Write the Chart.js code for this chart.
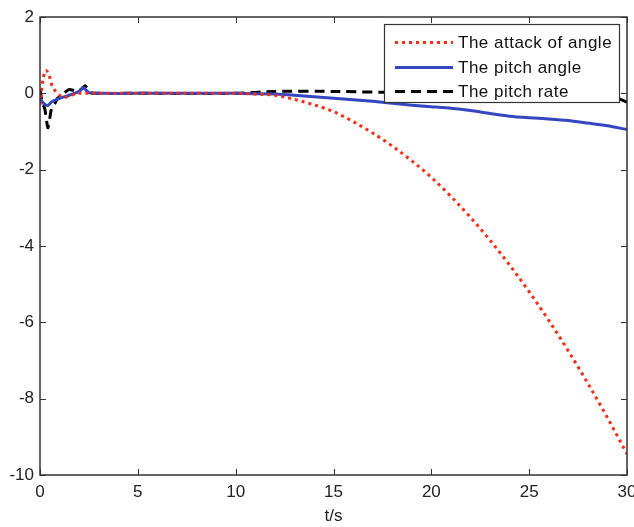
<!DOCTYPE html>
<html>
<head>
<meta charset="utf-8">
<title>Attack angle, pitch angle and pitch rate</title>
<script src="https://cdn.jsdelivr.net/npm/chart.js@4/dist/chart.umd.min.js"></script>
<style>
  html, body { margin: 0; padding: 0; background: #fff; }
  #wrap { width: 634px; height: 527px; }
</style>
</head>
<body>
<div id="wrap"><canvas id="attChart" width="634" height="527"></canvas></div>
<script>
// ---- data ----
const seriesLabels = ['The attack of angle', 'The pitch angle', 'The pitch rate'];

const attackT = [0, 0.15, 0.3, 0.45, 0.6, 0.8, 1.0, 1.3, 1.6, 2, 3, 5, 8, 10, 11, 12, 13, 14, 15, 16, 17, 18, 19, 20, 21, 22, 23, 24, 25, 26, 27, 28, 29, 30];
const attackVal = [-0.3, 0.35, 0.6, 0.5, 0.22, 0.05, -0.05, -0.1, -0.05, 0, 0, 0, 0, 0, -0.02, -0.05, -0.16, -0.3, -0.48, -0.74, -1.04, -1.38, -1.77, -2.2, -2.7, -3.25, -3.85, -4.5, -5.2, -5.95, -6.75, -7.6, -8.5, -9.45];

const pitchT = [0, 0.2, 0.4, 0.6, 1, 1.5, 2, 2.2, 2.5, 3, 5, 10, 12, 13, 14, 15, 16, 17, 18, 19, 20, 21, 22, 23, 24, 25, 26, 27, 28, 29, 30];
const pitchVal = [-0.15, -0.27, -0.32, -0.22, -0.13, -0.05, 0.05, 0.15, 0.02, 0, 0, 0, -0.02, -0.05, -0.09, -0.13, -0.17, -0.21, -0.26, -0.31, -0.35, -0.39, -0.45, -0.53, -0.6, -0.64, -0.67, -0.71, -0.78, -0.85, -0.95];

const rateT = [0, 0.1, 0.25, 0.4, 0.5, 0.6, 0.75, 0.9, 1.2, 1.5, 1.9, 2.1, 2.3, 2.6, 3, 5, 10, 12, 15, 20, 25, 28, 29.5, 30];
const rateVal = [0.1, -0.2, -0.42, -0.9, -0.65, -0.37, -0.27, -0.13, 0, 0.1, 0.05, 0.1, 0.2, 0.02, 0, 0, 0, 0.05, 0.05, 0, -0.05, -0.08, -0.13, -0.23];

const xTicks = [0, 5, 10, 15, 20, 25, 30];
const yTicks = [2, 0, -2, -4, -6, -8, -10];

const FONT = '"Liberation Sans", Arial, sans-serif';

function toPoints(ts, vs) {
    return ts.map((t, i) => ({ x: t, y: vs[i] }));
}

/* ========================================
   Frame, inward ticks and in-plot legend
   ======================================== */
const framePlugin = {
    id: 'matlabFrame',
    afterDraw(chart) {
        const ctx = chart.ctx;
        const a = chart.chartArea;
        const xs = chart.scales.x;
        const ys = chart.scales.y;
        ctx.save();
        ctx.strokeStyle = '#333';
        ctx.lineWidth = 1.5;
        ctx.strokeRect(a.left, a.top, a.right - a.left, a.bottom - a.top);

        // inward tick marks on all four sides
        const len = 6;
        ctx.lineWidth = 1;
        ctx.beginPath();
        xTicks.forEach(v => {
            const px = Math.round(xs.getPixelForValue(v)) + 0.5;
            ctx.moveTo(px, a.bottom); ctx.lineTo(px, a.bottom - len);
            ctx.moveTo(px, a.top); ctx.lineTo(px, a.top + len);
        });
        yTicks.forEach(v => {
            const py = Math.round(ys.getPixelForValue(v)) + 0.5;
            ctx.moveTo(a.left, py); ctx.lineTo(a.left + len, py);
            ctx.moveTo(a.right, py); ctx.lineTo(a.right - len, py);
        });
        ctx.stroke();

        // legend box in the upper right corner
        const box = { left: 384, top: 24, width: 235, height: 78 };
        ctx.fillStyle = '#fff';
        ctx.fillRect(box.left, box.top, box.width, box.height);
        ctx.strokeStyle = '#333';
        ctx.lineWidth = 1.2;
        ctx.strokeRect(box.left + 0.5, box.top + 0.5, box.width, box.height);

        const rows = [42, 67, 91];
        ctx.font = '17px ' + FONT;
        ctx.textBaseline = 'middle';
        if ('letterSpacing' in ctx) ctx.letterSpacing = '0.5px';
        chart.data.datasets.forEach((ds, i) => {
            const y = rows[i] + 0.5;
            ctx.beginPath();
            ctx.strokeStyle = ds.borderColor;
            ctx.lineWidth = ds.borderWidth;
            ctx.setLineDash(ds.borderDash || []);
            ctx.moveTo(395, y);
            ctx.lineTo(453, y);
            ctx.stroke();
            ctx.setLineDash([]);
            ctx.fillStyle = '#111';
            ctx.fillText(ds.label, 458, rows[i] + 1);
        });
        ctx.restore();
    }
};

/* ========================================
   Chart
   ======================================== */
const ctx = document.getElementById('attChart');

new Chart(ctx, {
    type: 'line',
    data: {
        datasets: [{
            label: seriesLabels[0],
            data: toPoints(attackT, attackVal),
            borderColor: '#ff2a10',
            borderWidth: 3,
            borderDash: [3, 4],
            pointRadius: 0,
            cubicInterpolationMode: 'monotone'
        }, {
            label: seriesLabels[1],
            data: toPoints(pitchT, pitchVal),
            borderColor: '#3447c0',
            borderWidth: 3,
            pointRadius: 0,
            tension: 0.2
        }, {
            label: seriesLabels[2],
            data: toPoints(rateT, rateVal),
            borderColor: '#000',
            borderWidth: 3,
            borderDash: [10, 6],
            pointRadius: 0,
            tension: 0.2
        }]
    },
    options: {
        responsive: false,
        animation: false,
        layout: { padding: { top: 17, right: 7, left: 0, bottom: 0 } },
        plugins: {
            legend: { display: false },
            tooltip: { enabled: false }
        },
        scales: {
            x: {
                type: 'linear',
                min: 0,
                max: 30,
                afterBuildTicks: s => { s.ticks = xTicks.map(v => ({ value: v })); },
                afterFit: s => { s.height = 52; s.paddingLeft = 0; s.paddingRight = 0; },
                grid: { display: false, drawTicks: false },
                border: { display: false },
                ticks: {
                    color: '#222',
                    padding: 7,
                    maxRotation: 0,
                    font: { family: FONT, size: 17 }
                },
                title: {
                    display: true,
                    text: 't/s',
                    color: '#222',
                    padding: { top: 0, bottom: 0 },
                    font: { family: FONT, size: 17 }
                }
            },
            y: {
                min: -10,
                max: 2,
                afterBuildTicks: s => { s.ticks = yTicks.map(v => ({ value: v })); },
                afterFit: s => { s.width = 40; s.paddingTop = 0; s.paddingBottom = 0; },
                grid: { display: false, drawTicks: false },
                border: { display: false },
                ticks: {
                    color: '#222',
                    padding: 6,
                    font: { family: FONT, size: 17 }
                }
            }
        }
    },
    plugins: [framePlugin]
});
</script>
</body>
</html>
